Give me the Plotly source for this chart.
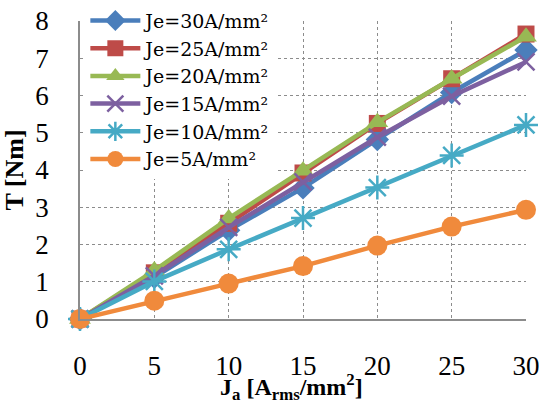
import plotly.graph_objects as go

# Armature current density [A_rms/mm^2]
ja = [0, 5, 10, 15, 20, 25, 30]

# Torque [Nm] for each excitation current density
t_je30 = [0, 1.12, 2.38, 3.52, 4.82, 6.08, 7.22]
t_je25 = [0, 1.24, 2.57, 3.92, 5.25, 6.45, 7.65]
t_je20 = [0, 1.30, 2.70, 3.98, 5.28, 6.45, 7.58]
t_je15 = [0, 1.16, 2.46, 3.68, 4.88, 5.98, 6.90]
t_je10 = [0, 1.01, 1.87, 2.71, 3.53, 4.39, 5.21]
t_je5 = [0, 0.49, 0.95, 1.42, 1.97, 2.48, 2.93]

names = ["Je=30A/mm²", "Je=25A/mm²", "Je=20A/mm²",
         "Je=15A/mm²", "Je=10A/mm²", "Je=5A/mm²"]
series = [t_je30, t_je25, t_je20, t_je15, t_je10, t_je5]
colors = ["#4a7ebb", "#be4b48", "#98b954", "#7d60a0", "#46aac5", "#f08a3c"]
symbols = ["diamond", "square", "triangle-up", "x-thin-open",
           "asterisk-open", "circle"]
sizes = [18, 17, 19, 17, 20, 20]

FONT = "Liberation Serif"

fig = go.Figure()
for name, ys, col, sym, sz in zip(names, series, colors, symbols, sizes):
    open_sym = sym.endswith("open")
    fig.add_trace(go.Scatter(
        x=ja, y=ys, name=name, mode="lines+markers",
        line=dict(color=col, width=4.5),
        marker=dict(symbol=sym, size=sz, color=col,
                    line=dict(color=col, width=2.5 if open_sym else 0)),
        cliponaxis=False,
    ))

fig.update_layout(
    width=539, height=404,
    margin=dict(l=80, r=13, t=21, b=85, autoexpand=False),
    paper_bgcolor="white", plot_bgcolor="white",
    font=dict(family=FONT, size=21, color="black"),
    showlegend=True,
    legend=dict(
        x=0.012, y=1.065, xanchor="left", yanchor="top",
        bgcolor="white", itemwidth=50,
        font=dict(family="DejaVu Serif", size=19, color="black"),
    ),
    # x-axis title placed below the tick labels
    annotations=[dict(
        text="<b>J<sub>a</sub> [A<sub>rms</sub>/mm<sup>2</sup>]</b>",
        xref="paper", yref="paper", x=0.475, y=-0.228,
        xanchor="center", yanchor="middle", showarrow=False,
        font=dict(family=FONT, size=24, color="black"),
    )],
)

fig.update_xaxes(
    range=[0, 30], tickvals=[0, 5, 10, 15, 20, 25, 30],
    showgrid=True, gridcolor="#8c8c8c", griddash="dot", gridwidth=1,
    showline=True, linecolor="#8c8c8c", linewidth=1.5,
    zeroline=False, ticks="outside", ticklen=22, tickcolor="rgba(0,0,0,0)",
    automargin=False, ticklabeloverflow="allow",
    tickfont=dict(family=FONT, size=27),
)
fig.update_yaxes(
    range=[0, 8], tickvals=list(range(9)),
    showgrid=True, gridcolor="#8c8c8c", griddash="dot", gridwidth=1,
    showline=True, linecolor="#8c8c8c", linewidth=1.5,
    zeroline=False, ticks="outside", ticklen=24, tickcolor="rgba(0,0,0,0)",
    automargin=False, ticklabeloverflow="allow",
    tickfont=dict(family=FONT, size=27),
    title=dict(text="<b>T [Nm]</b>", font=dict(family=FONT, size=26),
               standoff=6),
)

fig.write_html("out.html")
